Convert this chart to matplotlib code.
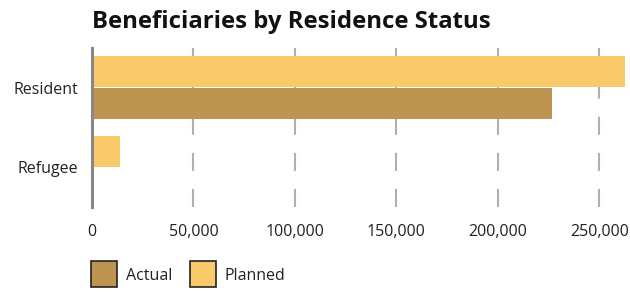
import matplotlib
matplotlib.use("Agg")
import matplotlib.pyplot as plt
from matplotlib.patches import Rectangle
import numpy as np

plt.rcParams['font.family'] = ['Open Sans', 'DejaVu Sans']
plt.rcParams['lines.scale_dashes'] = False

categories = ["Resident", "Refugee"]
planned = [262600, 13800]
actual = [226500, 0]
series_names = ["Actual", "Planned"]
xticks = [0, 50000, 100000, 150000, 200000, 250000]
xtick_labels = ["0", "50,000", "100,000", "150,000", "200,000", "250,000"]

c_actual = "#BD9551"
c_planned = "#F9CA69"

fig = plt.figure(figsize=(6.3, 2.92), dpi=100)
W, H = 630, 292
ax = fig.add_axes([92 / W, 1 - 207 / H, (625 - 92) / W, (207 - 48) / H])

y = np.arange(len(categories))
ax.barh(y - 0.2, planned, height=0.39, color=c_planned, zorder=3)
ax.barh(y + 0.2, actual, height=0.39, color=c_actual, zorder=3)

ax.set_ylim(1.5, -0.5)
ax.set_xlim(0, max(planned))

for t in xticks[1:]:
    ax.axvline(t, ymin=0, ymax=1, color="#b0b0b0", lw=1.5,
               linestyle=(0, (13, 13)), zorder=1)

for s in ["top", "right", "bottom"]:
    ax.spines[s].set_visible(False)
ax.spines["left"].set_color("#888888")
ax.spines["left"].set_linewidth(2.2)
ax.spines["left"].set_zorder(4)

fs = 11.5
ax.set_yticks(y)
ax.set_yticklabels(categories, fontsize=fs, color="#222222")
ax.set_xticks(xticks)
ax.set_xticklabels(xtick_labels, fontsize=fs, color="#222222")
ax.tick_params(axis="both", length=0)
ax.tick_params(axis="y", pad=10)
ax.tick_params(axis="x", pad=12)

fig.text(92 / W, 1 - 28 / H, "Beneficiaries by Residence Status",
         fontsize=17.2, fontweight="bold", color="#111111",
         ha="left", va="baseline")

# legend
for x0, col, name in [(91, c_actual, series_names[0]), (190, c_planned, series_names[1])]:
    fig.patches.append(Rectangle((x0 / W, 1 - 287 / H), 26 / W, 26 / H,
                                 transform=fig.transFigure, facecolor=col,
                                 edgecolor="#222222", lw=1.2))
    fig.text((x0 + 35) / W, 1 - 275.5 / H, name, fontsize=fs,
             color="#222222", ha="left", va="center")

fig.savefig("out.png", dpi=100)
